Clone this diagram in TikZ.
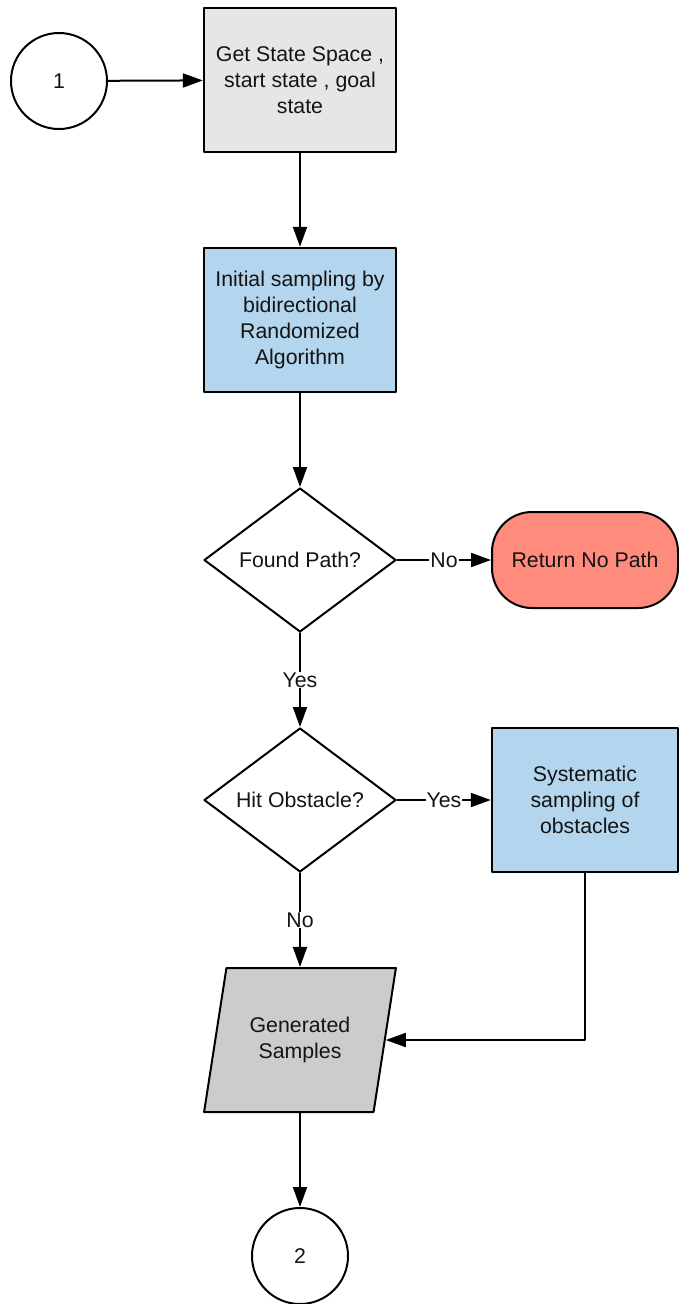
\documentclass[tikz,border=0pt]{standalone}
\usepackage{fontspec}
\setmainfont{Liberation Sans}
\usetikzlibrary{arrows.meta}
\usetikzlibrary{shapes.geometric}
\definecolor{boxgray}{RGB}{230,230,230}
\definecolor{boxblue}{RGB}{179,213,238}
\definecolor{boxred}{RGB}{255,139,125}
\definecolor{genGray}{RGB}{204,204,204}

\begin{document}
\begin{tikzpicture}[line cap=round,line join=round,>={Triangle[length=20pt,width=14pt]},x=1pt,y=-1pt,
  every node/.style={font=\fontsize{21.3}{26}\selectfont,align=center,text=black!92,inner sep=0pt},
  conn/.style={draw,circle,line width=2pt,minimum size=96pt,fill=white},
  proc/.style={draw,rectangle,line width=2.4pt,minimum width=192pt,minimum height=144pt},
  decide/.style={draw,diamond,aspect=1.333,line width=2pt,minimum width=192pt,minimum height=144pt,fill=white},
  flow/.style={->,line width=2pt},
  lbl/.style={fill=white,inner sep=1pt}]
\useasboundingbox (0,0) rectangle (678,1304);
\node[conn] (one) at (59,81) {1};
\node[proc,fill=boxgray] (getspace) at (300,80) {Get State Space ,\\ start state , goal\\ state};
\node[proc,fill=boxblue] (initsamp) at (300,320) {Initial sampling by\\ bidirectional\\ Randomized\\ Algorithm};
\node[decide] (foundpath) at (300,560) {Found Path?};
\node[draw,rectangle,rounded corners=40pt,line width=2pt,fill=boxred,minimum width=186pt,minimum height=96pt] (nopath) at (585,560) {Return No Path};
\node[decide] (hitobs) at (300,800) {Hit Obstacle?};
\node[proc,fill=boxblue,minimum width=186pt] (syssamp) at (585,800) {Systematic\\ sampling of\\ obstacles};
\node[draw,trapezium,trapezium left angle=71.57,trapezium right angle=108.43,trapezium stretches=true,line width=2pt,fill=genGray,minimum width=192pt,minimum height=144pt] (gensamp) at (300,1040) {Generated\\ Samples};
\node[conn] (two) at (300,1256) {2};

\draw[flow] (one) -- (getspace);
\draw[flow] (getspace) -- (initsamp);
\draw[flow] (initsamp) -- (foundpath);
\draw[flow] (foundpath) -- node[lbl] {No} (nopath);
\draw[flow] (foundpath) -- node[lbl] {Yes} (hitobs);
\draw[flow] (hitobs) -- node[lbl] {Yes} (syssamp);
\draw[flow] (hitobs) -- node[lbl] {No} (gensamp);
\draw[flow] (syssamp.south) |- (gensamp.east);
\draw[flow] (gensamp) -- (two);
\end{tikzpicture}
\end{document}
